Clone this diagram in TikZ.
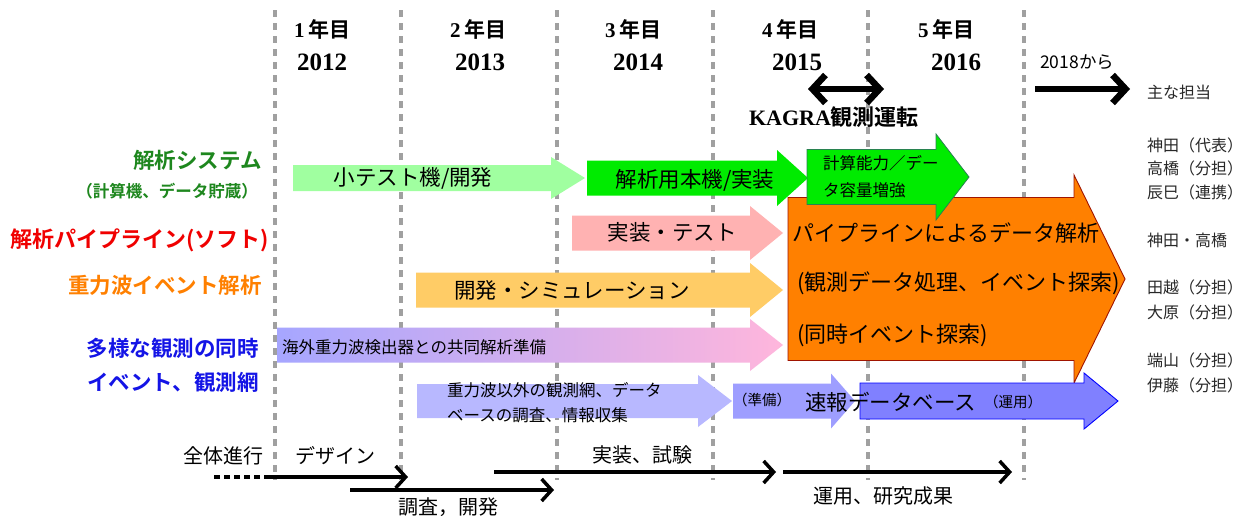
\documentclass[tikz,border=0pt]{standalone}
\usepackage{fontspec}
\usetikzlibrary{arrows.meta}
\newfontfamily\jp{Noto Sans CJK JP}[BoldFont={Noto Sans CJK JP Bold}]
\newfontfamily\ser{Liberation Serif}
\definecolor{lgreen}{RGB}{160,255,160}
\definecolor{bgreen}{RGB}{0,235,0}
\definecolor{dgreenline}{RGB}{40,130,80}
\definecolor{lpink}{RGB}{255,178,178}
\definecolor{lorange}{RGB}{255,204,102}
\definecolor{orangefill}{RGB}{255,128,0}
\definecolor{orangeline}{RGB}{160,20,0}
\definecolor{gradA}{RGB}{166,166,255}
\definecolor{gradB}{RGB}{255,182,220}
\definecolor{lav}{RGB}{184,184,255}
\definecolor{midlav}{RGB}{158,158,255}
\definecolor{bluefill}{RGB}{128,128,255}
\definecolor{labgreen}{RGB}{30,135,30}
\definecolor{labred}{RGB}{240,0,0}
\definecolor{laborange}{RGB}{255,128,0}
\definecolor{labblue}{RGB}{20,20,230}
\definecolor{namegray}{RGB}{40,40,40}
\definecolor{sepgray}{RGB}{160,160,160}
\newcommand\blockarr[8]{%
  \path[#8] ({#2},{#5-#6}) -- ({#3},{#5-#6}) -- ({#3},{#5-#7}) -- ({#4},{#5})
    -- ({#3},{#5+#7}) -- ({#3},{#5+#6}) -- ({#2},{#5+#6}) -- cycle;
  \coordinate (#1) at ({#2},{#5});}
\begin{document}
\begin{tikzpicture}[x=1pt,y=-1pt,
  vline/.style={draw=sepgray,line width=3.5pt,dash pattern=on 7pt off 6pt},
  lab/.style={font=\jp\bfseries\fontsize{21.5}{24}\selectfont,anchor=east,inner sep=0pt},
  txt/.style={font=\jp\fontsize{21.5}{24}\selectfont,inner sep=0pt},
  otxt/.style={font=\jp\fontsize{22}{24}\selectfont,inner sep=0pt,anchor=west},
  stxt/.style={font=\jp\fontsize{16.5}{20}\selectfont,inner sep=0pt,anchor=west},
  tinytxt/.style={font=\jp\fontsize{14.5}{16}\selectfont,inner sep=0pt,anchor=west},
  pname/.style={font=\jp\fontsize{16}{18}\selectfont,text=namegray,inner sep=0pt,anchor=west},
  hdr/.style={font=\jp\bfseries\fontsize{21}{24}\selectfont,inner sep=0pt},
  yr/.style={font=\ser\bfseries\fontsize{25}{28}\selectfont,inner sep=0pt},
  btxt/.style={font=\jp\fontsize{20}{22}\selectfont,inner sep=0pt},
  flow/.style={line width=3.5pt,-{Straight Barb[length=10pt,width=22pt]}},
  dotline/.style={line width=3.5pt,dash pattern=on 6pt off 4pt},
  bigline/.style={line width=6.5pt},
]
\useasboundingbox (0,0) rectangle (1249,515);
\fill[white] (0,0) rectangle (1249,515);
% vertical year separators
\foreach \xx in {275,401,557,713,868,1024}{\draw[vline] (\xx,10) -- (\xx,480);}
% headers
\node[hdr] (h1) at (322,29) {{\ser 1}\,年目};
\node[yr]  (y1) at (322,62) {2012};
\node[hdr] (h2) at (478,29) {{\ser 2}\,年目};
\node[yr]  (y2) at (480,62) {2013};
\node[hdr] (h3) at (633,29) {{\ser 3}\,年目};
\node[yr]  (y3) at (638,62) {2014};
\node[hdr] (h4) at (790,29) {{\ser 4}\,年目};
\node[yr]  (y4) at (797,62) {2015};
\node[hdr] (h5) at (946,29) {{\ser 5}\,年目};
\node[yr]  (y5) at (956,62) {2016};
\node[font=\jp\fontsize{17.5}{20}\selectfont,inner sep=0pt,anchor=west] (y7) at (1040,62) {2018から};
% KAGRA
\coordinate (ka) at (808,89);
\coordinate (kb) at (884,89);
\draw[bigline,{Straight Barb[length=13pt,width=28pt]}-{Straight Barb[length=13pt,width=28pt]}] (ka) -- (kb);
\node[font=\jp\bfseries\fontsize{22}{24}\selectfont,inner sep=0pt] (kagra) at (834,117) {{\ser KAGRA}観測運転};
\coordinate (ra) at (1035,89);
\coordinate (rb) at (1130,89);
\draw[bigline,-{Straight Barb[length=13pt,width=28pt]}] (ra) -- (rb);
\node[font=\jp\fontsize{16}{18}\selectfont,inner sep=0pt,anchor=west,text=namegray] (tanto) at (1147,92) {主な担当};
% left labels
\node[lab,text=labgreen] (l1) at (262,160) {解析システム};
\node[lab,text=labgreen,font=\jp\bfseries\fontsize{16.5}{18}\selectfont] (l1b) at (258,191) {（計算機、データ貯蔵）};
\node[lab,text=labred,font=\jp\bfseries\fontsize{22}{24}\selectfont] (l2) at (269,240) {解析パイプライン(ソフト)};
\node[lab,text=laborange] (l3) at (262,285) {重力波イベント解析};
\node[lab,text=labblue] (l4) at (259,348) {多様な観測の同時};
\node[lab,text=labblue] (l4b) at (259,382) {イベント、観測網};
% block arrows
\blockarr{a1}{293}{551}{585}{178}{13}{21}{fill=lgreen}
\blockarr{a2}{587}{777}{808}{178}{17.5}{28}{fill=bgreen}
\blockarr{a4}{572}{750}{783}{233}{17.5}{27}{fill=lpink}
\blockarr{a5}{416}{750}{783}{290}{17.5}{27}{fill=lorange}
\blockarr{a6}{277}{750}{783}{345}{17.5}{26}{left color=gradA,right color=gradB}
\blockarr{a7}{788}{1074}{1125}{279}{81.5}{104}{fill=orangefill,draw=orangeline,line width=0.9pt}
\blockarr{a3}{807}{936}{969}{177}{27.5}{43}{fill=bgreen,draw=dgreenline,line width=0.8pt}
\blockarr{a8}{417}{698}{732}{401}{17}{26}{fill=lav}
\blockarr{a9}{733}{831}{855}{401}{17.5}{27.5}{fill=midlav}
\blockarr{a10}{860}{1084}{1118}{401}{18}{28}{fill=bluefill,draw=blue,line width=0.9pt}
% arrow texts
\node[txt] (t1) at (413,178) {小テスト機/開発};
\node[txt] (t2) at (695,180) {解析用本機/実装};
\node[stxt] (t3a) at (823,163) {計算能力／デー};
\node[stxt] (t3b) at (823,190) {タ容量増強};
\node[txt] (t4) at (672,232) {実装・テスト};
\node[txt] (t5) at (572,290) {開発・シミュレーション};
\node[stxt] (t6) at (282,347) {海外重力波検出器との共同解析準備};
\node[otxt] (t7a) at (792,233) {パイプラインによるデータ解析};
\node[otxt] (t7b) at (797,283) {(観測データ処理、イベント探索)};
\node[otxt] (t7c) at (797,335) {(同時イベント探索)};
\node[stxt] (t8a) at (447,390) {重力波以外の観測網、データ};
\node[stxt] (t8b) at (447,415) {ベースの調査、情報収集};
\node[tinytxt] (t9) at (733,400) {（準備）};
\node[txt,anchor=west] (t10) at (805,402) {速報データベース};
\node[tinytxt] (t11) at (984,402) {（運用）};
% right column names
\node[pname] (n1) at (1147,145) {神田（代表）};
\node[pname] (n2) at (1147,168) {高橋（分担）};
\node[pname] (n3) at (1147,192) {辰巳（連携）};
\node[pname] (n4) at (1147,240) {神田・高橋};
\node[pname] (n5) at (1147,287) {田越（分担）};
\node[pname] (n6) at (1147,312) {大原（分担）};
\node[pname] (n7) at (1147,360) {端山（分担）};
\node[pname] (n8) at (1147,385) {伊藤（分担）};
% overall progress
\node[btxt] (zen) at (223,456) {全体進行};
\node[btxt] (des) at (335,456) {デザイン};
\node[btxt] (jis) at (642,455) {実装、試験};
\node[btxt] (unyo) at (883,496) {運用、研究成果};
\node[btxt] (cho) at (448,507) {調査，開発};
\coordinate (d0) at (214,477);
\coordinate (d1) at (270,477);
\coordinate (d2) at (408,477);
\coordinate (c1) at (350,490);
\coordinate (c2) at (554,490);
\coordinate (e1) at (494,472);
\coordinate (e2) at (776,472);
\coordinate (f1) at (783,472);
\coordinate (f2) at (1012,472);
\draw[dotline] (d0) -- (d1);
\draw[flow] (d1) -- (d2);
\draw[flow] (c1) -- (c2);
\draw[flow] (e1) -- (e2);
\draw[flow] (f1) -- (f2);
\end{tikzpicture}
\end{document}
